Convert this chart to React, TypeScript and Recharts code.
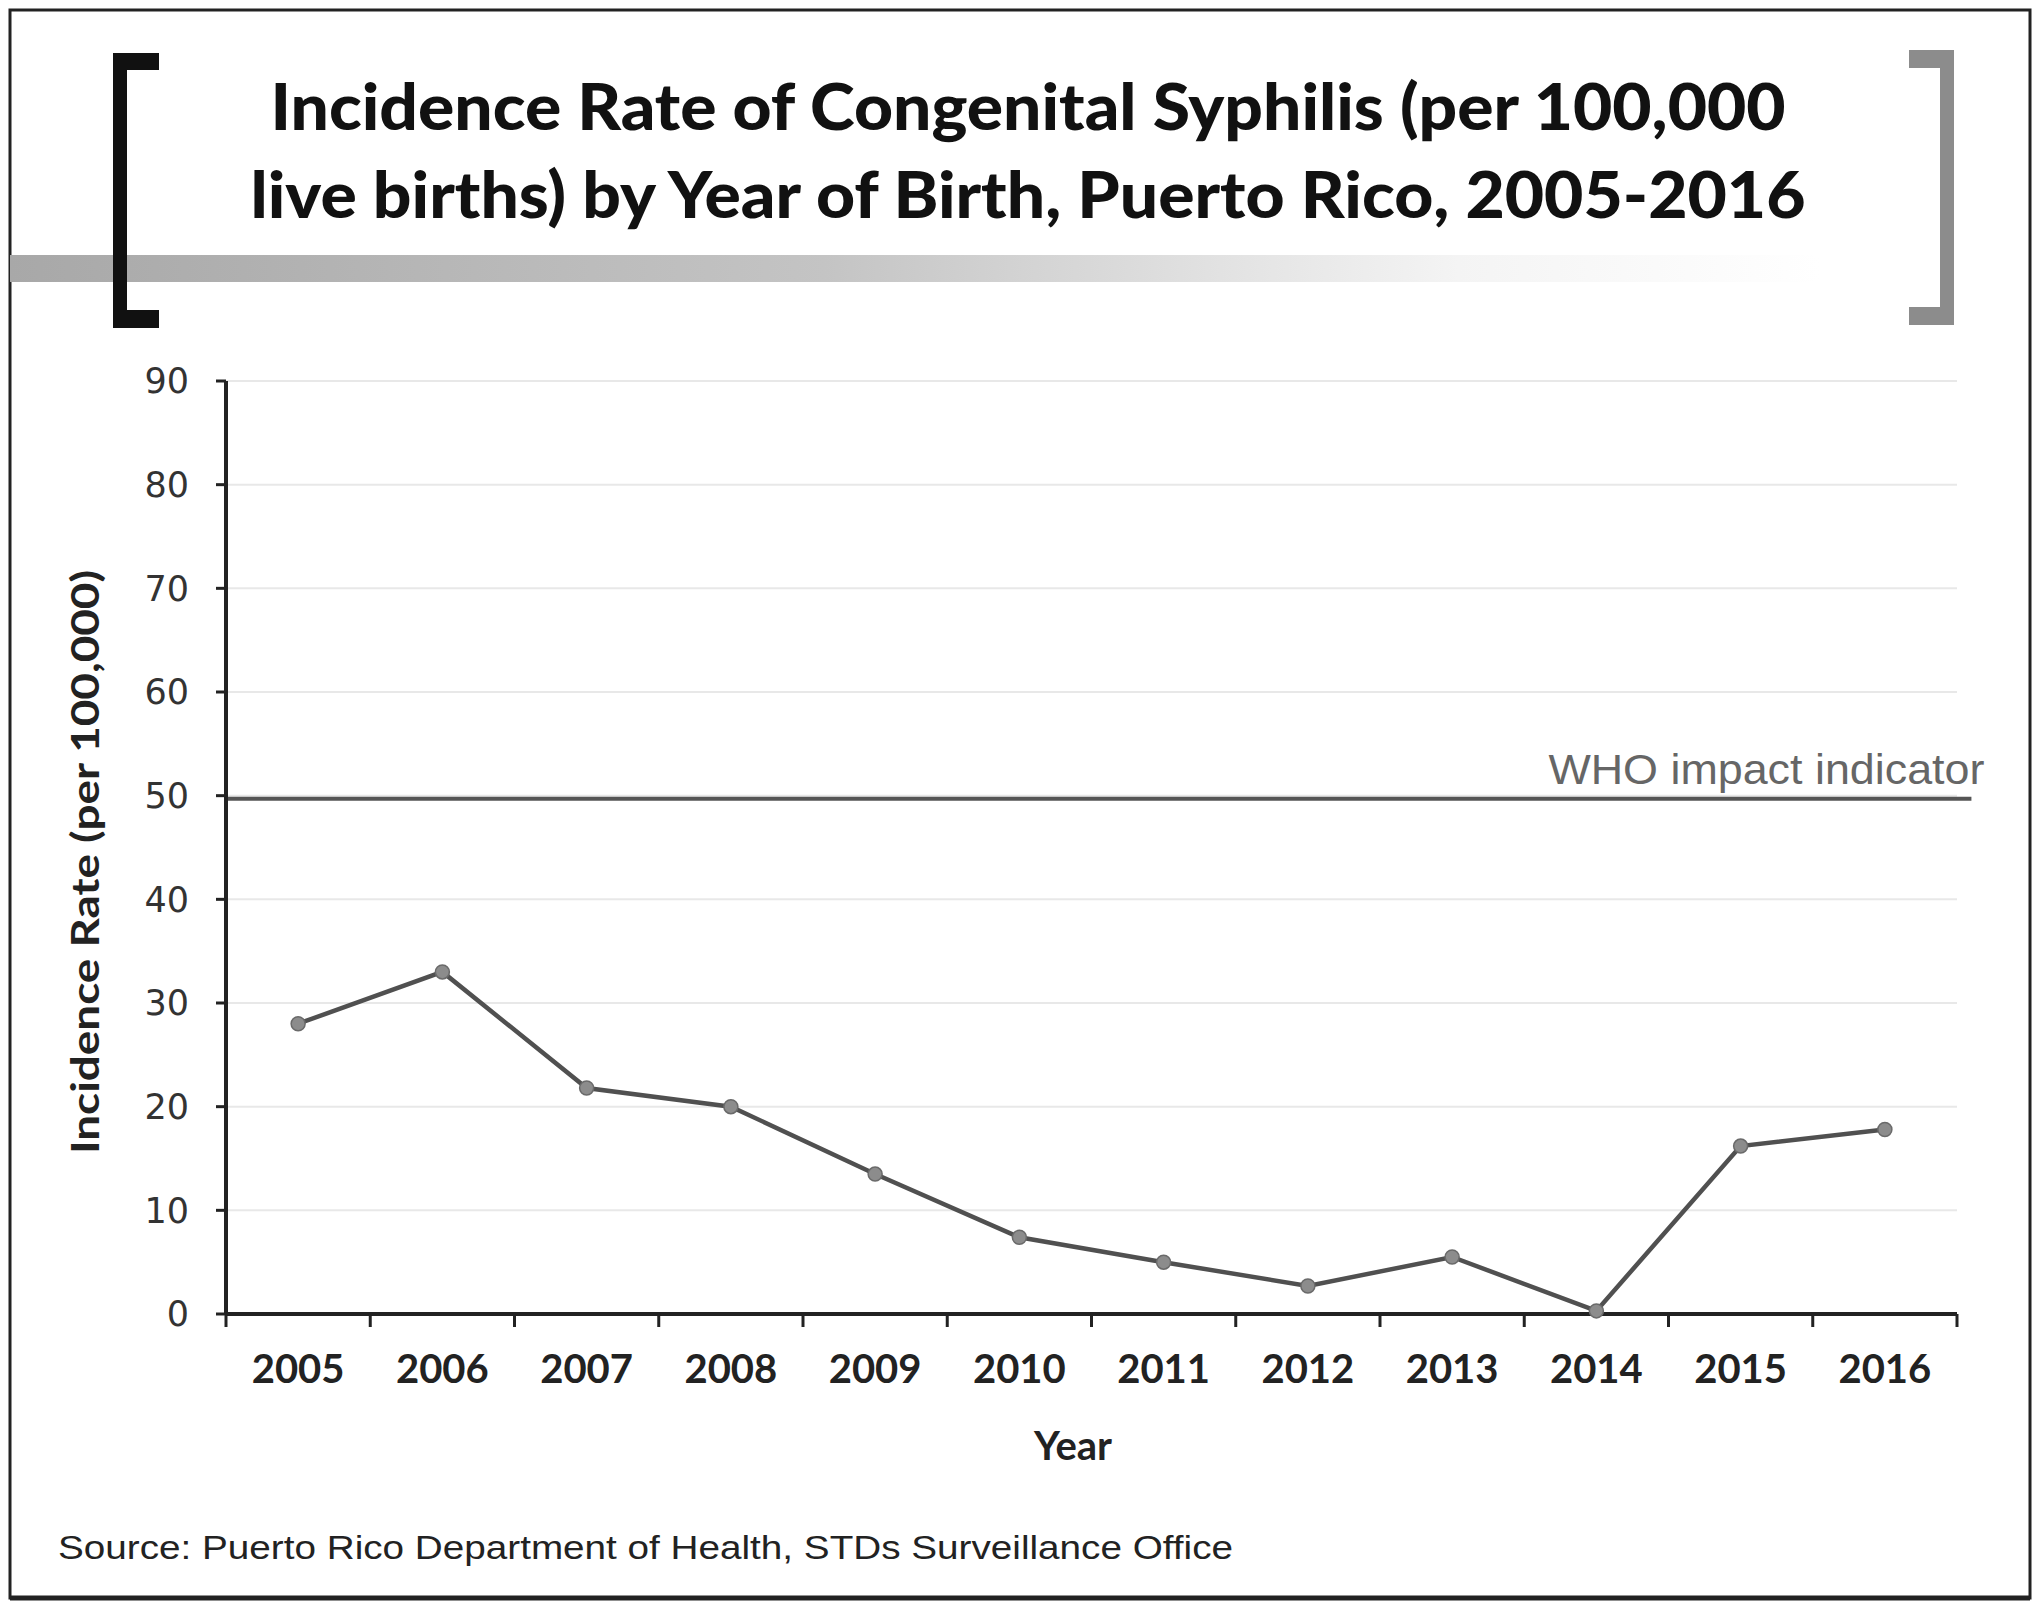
import React from 'react';
import { LineChart, Line, XAxis, YAxis, CartesianGrid, ReferenceLine } from 'recharts';

const years = [2005, 2006, 2007, 2008, 2009, 2010, 2011, 2012, 2013, 2014, 2015, 2016];
const rates = [28.0, 33.0, 21.8, 20.0, 13.5, 7.4, 5.0, 2.7, 5.5, 0.3, 16.2, 17.8];
const yTicks = [0, 10, 20, 30, 40, 50, 60, 70, 80, 90];
const whoIndicator = 49.7;
const whoLabel = 'WHO impact indicator';
const titleLines = [
  'Incidence Rate of Congenital Syphilis (per 100,000',
  'live births) by Year of Birth, Puerto Rico, 2005-2016',
];
const yLabel = 'Incidence  Rate (per 100,000)';
const xLabel = 'Year';
const sourceText = 'Source: Puerto Rico Department of Health, STDs Surveillance Office';

const data = years.map((year, i) => ({ pos: i + 0.5, year, rate: rates[i] }));
const boundaryTicks = years.map((_, i) => i).concat([years.length]);
const centerTicks = years.map((_, i) => i + 0.5);

const W = 2040;
const H = 1607;

const WhoLabel = (props: any) => {
  const vb = props.viewBox || {};
  const x = (vb.x ?? 226) + (vb.width ?? 1745) + 13;
  const y = (vb.y ?? 797) - 15;
  return (
    <text
      x={x}
      y={y}
      textAnchor="end"
      fontFamily="'Liberation Sans', Arial, sans-serif"
      fontSize={43}
      fill="#666"
      textLength={436}
      lengthAdjust="spacingAndGlyphs"
    >
      {whoLabel}
    </text>
  );
};

const EmptyTick = () => <g />;

export default function App() {
  return (
    <div style={{ position: 'relative', width: W, height: H, background: '#fff' }}>
      <style>{`body{margin:0;background:#fff}`}</style>
      <LineChart
        width={W}
        height={H}
        data={data}
        margin={{ top: 381, right: 83, left: 126, bottom: 193 }}
      >
        <CartesianGrid vertical={false} stroke="#e8e8e8" strokeWidth={2} xAxisId="frame" />
        <XAxis
          xAxisId="frame"
          dataKey="pos"
          type="number"
          domain={[0, 12]}
          ticks={boundaryTicks}
          interval={0}
          tick={<EmptyTick />}
          height={1}
          tickSize={13}
          axisLine={{ stroke: '#222', strokeWidth: 4 }}
          tickLine={{ stroke: '#222', strokeWidth: 3 }}
          allowDataOverflow
        />
        <XAxis
          xAxisId="lab"
          dataKey="pos"
          type="number"
          domain={[0, 12]}
          ticks={centerTicks}
          tickFormatter={(v: number) => String(years[Math.floor(v)])}
          height={99}
          tickSize={0}
          tickMargin={40}
          axisLine={false}
          tickLine={false}
          interval={0}
          tick={{ fontFamily: 'Lato, sans-serif', fontWeight: 700, fontSize: 40, fill: '#222' }}
        />
        <YAxis
          domain={[0, 90]}
          ticks={yTicks}
          width={100}
          tickSize={10}
          tickMargin={27}
          interval={0}
          axisLine={{ stroke: '#222', strokeWidth: 4 }}
          tickLine={{ stroke: '#222', strokeWidth: 3 }}
          tick={{ fontFamily: "'DejaVu Sans', Verdana, sans-serif", fontSize: 35, fill: '#333' }}
        />
        <ReferenceLine
          xAxisId="frame"
          segment={[{ x: 0, y: whoIndicator }, { x: 12.1, y: whoIndicator }]}
          ifOverflow="visible"
          stroke="#555"
          strokeWidth={4}
          label={WhoLabel}
        />
        <Line
          xAxisId="frame"
          dataKey="rate"
          stroke="#505050"
          strokeWidth={4.5}
          isAnimationActive={false}
          dot={{ r: 7, fill: '#8c8c8c', stroke: '#6a6a6a', strokeWidth: 1.5 }}
        />
      </LineChart>
      <svg
        width={W}
        height={H}
        style={{ position: 'absolute', left: 0, top: 0, pointerEvents: 'none' }}
      >
        <defs>
          <linearGradient id="band" x1="0" y1="0" x2="1" y2="0">
            <stop offset="0%" stopColor="#a8a8a8" />
            <stop offset="45%" stopColor="#c4c4c4" />
            <stop offset="80%" stopColor="#f4f4f4" />
            <stop offset="100%" stopColor="#ffffff" />
          </linearGradient>
        </defs>
        <rect x={10} y={10} width={2020} height={1588} fill="none" stroke="#222" strokeWidth={3} />
        <line x1={10} y1={1598} x2={2030} y2={1598} stroke="#222" strokeWidth={5} />
        <rect x={10} y={255} width={1810} height={27} fill="url(#band)" />
        {/* left bracket */}
        <rect x={113} y={53} width={14} height={275} fill="#111" />
        <rect x={113} y={53} width={46} height={17} fill="#111" />
        <rect x={113} y={310} width={46} height={18} fill="#111" />
        {/* right bracket */}
        <rect x={1940} y={50} width={14} height={275} fill="#8c8c8c" />
        <rect x={1909} y={50} width={45} height={18} fill="#8c8c8c" />
        <rect x={1909} y={307} width={45} height={18} fill="#8c8c8c" />
        <text
          x={1028}
          y={130}
          textAnchor="middle"
          fontFamily="Lato, sans-serif"
          fontWeight={900}
          fontSize={64}
          fill="#111"
          textLength={1515}
          lengthAdjust="spacingAndGlyphs"
        >
          {titleLines[0]}
        </text>
        <text
          x={1028}
          y={218}
          textAnchor="middle"
          fontFamily="Lato, sans-serif"
          fontWeight={900}
          fontSize={64}
          fill="#111"
          textLength={1555}
          lengthAdjust="spacingAndGlyphs"
        >
          {titleLines[1]}
        </text>
        <text
          x={99}
          y={862}
          transform="rotate(-90 99 862)"
          textAnchor="middle"
          fontFamily="Lato, sans-serif"
          fontWeight={700}
          fontSize={39}
          fill="#222"
          textLength={584}
          lengthAdjust="spacingAndGlyphs"
        >
          {yLabel}
        </text>
        <text
          x={1073}
          y={1460}
          textAnchor="middle"
          fontFamily="Lato, sans-serif"
          fontWeight={700}
          fontSize={40}
          fill="#222"
        >
          {xLabel}
        </text>
        <text
          x={58}
          y={1559}
          fontFamily="'Liberation Sans', Arial, sans-serif"
          fontSize={34}
          fill="#222"
          textLength={1175}
          lengthAdjust="spacingAndGlyphs"
        >
          {sourceText}
        </text>
      </svg>
    </div>
  );
}
